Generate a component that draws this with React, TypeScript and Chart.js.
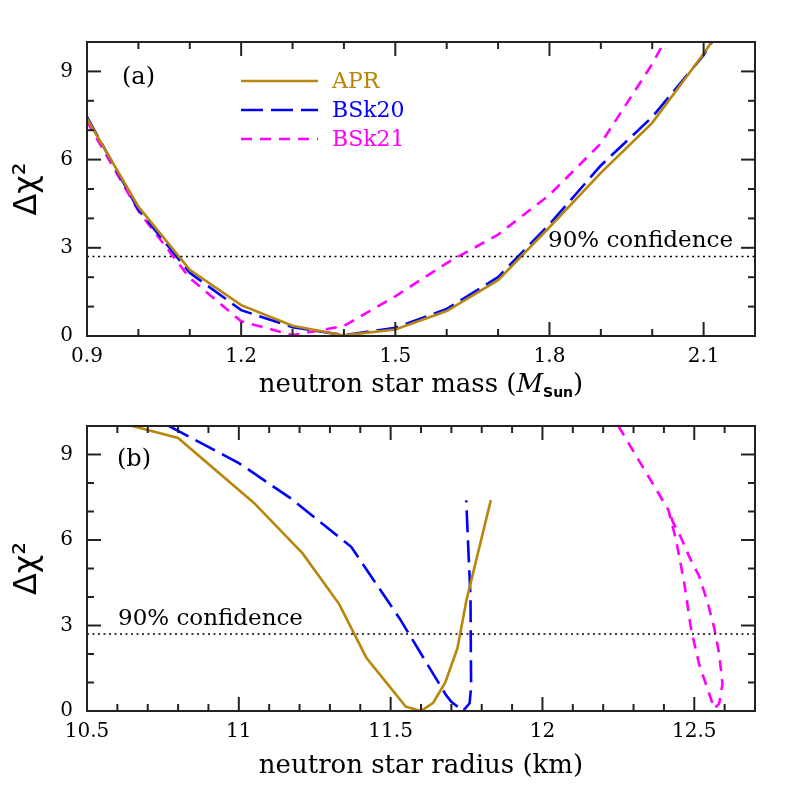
import React, { useEffect, useRef } from "react";
import { Chart, registerables } from "chart.js";

Chart.register(...registerables);

// ---------- Panel (a): mass ----------
const massGrid = [0.9, 1.0, 1.1, 1.2, 1.3, 1.4, 1.5, 1.6, 1.7, 1.8, 1.9, 2.0, 2.1, 2.2];
const aprMassChi = [7.4, 4.4, 2.25, 1.05, 0.35, 0.02, 0.22, 0.85, 1.9, 3.7, 5.55, 7.25, 9.6, 12.2];
const bsk20MassChi = [7.45, 4.3, 2.15, 0.88, 0.3, 0.03, 0.28, 0.92, 2.0, 3.8, 5.8, 7.45, 9.55, 12.3];
const bsk21MassChi = [7.3, 4.25, 1.97, 0.5, 0.03, 0.34, 1.35, 2.48, 3.45, 4.8, 6.55, 9.25, 12.5, 16.0];

// ---------- Panel (b): radius ----------
const aprRadius = [10.65, 10.8, 11.05, 11.21, 11.33, 11.42, 11.5, 11.55, 11.6, 11.64, 11.68, 11.72, 11.75, 11.83];
const aprRadiusChi = [10.0, 9.58, 7.3, 5.53, 3.76, 1.87, 0.81, 0.15, 0.0, 0.29, 1.0, 2.2, 3.9, 7.4];

const bsk20Radius = [10.77, 11.0, 11.17, 11.37, 11.53, 11.683, 11.7, 11.738, 11.76, 11.765, 11.763, 11.756, 11.749];
const bsk20RadiusChi = [10.0, 8.7, 7.47, 5.76, 3.24, 0.55, 0.32, 0.0, 0.27, 0.84, 4.0, 5.64, 7.39];

const bsk21Radius = [12.25, 12.415, 12.44, 12.467, 12.489, 12.516, 12.566, 12.582, 12.593, 12.582, 12.566, 12.544, 12.516, 12.484, 12.456, 12.428, 12.422];
const bsk21RadiusChi = [10.0, 7.05, 6.0, 4.5, 2.9, 1.64, 0.08, 0.26, 0.95, 2.0, 2.9, 3.81, 4.73, 5.4, 6.09, 6.67, 6.9];

const confidenceLevel = 2.706;
const confidenceText = "90% confidence";

// ---------- axes ----------
const massRange = [0.9, 2.2];
const radiusRange = [10.5, 12.7];
const chiRange = [0, 10];
const massTicks = [0.9, 1.2, 1.5, 1.8, 2.1];
const massMinorTicks = [1.0, 1.1, 1.3, 1.4, 1.6, 1.7, 1.9, 2.0, 2.2];
const radiusTicks = [10.5, 11, 11.5, 12, 12.5];
const radiusMinorTicks = [10.6, 10.7, 10.8, 10.9, 11.1, 11.2, 11.3, 11.4, 11.6, 11.7, 11.8, 11.9, 12.1, 12.2, 12.3, 12.4, 12.6, 12.7];
const chiTicks = [0, 3, 6, 9];
const chiMinorTicks = [1, 2, 4, 5, 7, 8, 10];

const seriesNames = ["APR", "BSk20", "BSk21"];
const seriesColors = ["#B8860B", "#0000FF", "#FF00FF"];
const seriesDash: number[][] = [[], [22, 8], [11, 8]];

const SERIF = "'DejaVu Serif', serif";

const decorPlugin = {
  id: "decor",
  afterDatasetsDraw(chart: any, _args: any, opts: any) {
    const { ctx, chartArea: ca, scales } = chart;
    const xs = scales.x;
    const ys = scales.y;
    ctx.save();
    ctx.strokeStyle = "#222";
    ctx.lineWidth = 2;
    ctx.setLineDash([]);
    const seg = (x1: number, y1: number, x2: number, y2: number) => {
      ctx.beginPath();
      ctx.moveTo(x1, y1);
      ctx.lineTo(x2, y2);
      ctx.stroke();
    };
    const xt = (vals: number[], len: number) =>
      vals.forEach((v) => {
        const p = xs.getPixelForValue(v);
        seg(p, ca.bottom, p, ca.bottom - len);
        seg(p, ca.top, p, ca.top + len);
      });
    const yt = (vals: number[], len: number) =>
      vals.forEach((v) => {
        const p = ys.getPixelForValue(v);
        seg(ca.left, p, ca.left + len, p);
        seg(ca.right, p, ca.right - len, p);
      });
    xt(opts.xMajor, 14);
    xt(opts.xMinor, 7);
    yt(opts.yMajor, 14);
    yt(opts.yMinor, 7);
    ctx.strokeRect(ca.left, ca.top, ca.right - ca.left, ca.bottom - ca.top);

    ctx.fillStyle = "#000";
    ctx.font = `24px ${SERIF}`;
    ctx.textBaseline = "middle";
    ctx.textAlign = "left";
    ctx.fillText(opts.panelLabel, ca.left + opts.panelDx, ca.top + opts.panelDy);

    ctx.font = `23px ${SERIF}`;
    const cy = ys.getPixelForValue(confidenceLevel) - 15;
    if (opts.confAlign === "right") {
      ctx.textAlign = "right";
      ctx.fillText(confidenceText, ca.right - opts.confDx, cy);
    } else {
      ctx.textAlign = "left";
      ctx.fillText(confidenceText, ca.left + opts.confDx, cy);
    }

    if (opts.legend) {
      seriesNames.forEach((name, i) => {
        const yy = ca.top + 39 + i * 29;
        ctx.strokeStyle = seriesColors[i];
        ctx.lineWidth = 2.5;
        ctx.setLineDash(seriesDash[i]);
        seg(ca.left + 154, yy, ca.left + 231, yy);
        ctx.setLineDash([]);
        ctx.fillStyle = seriesColors[i];
        ctx.textAlign = "left";
        ctx.font = `22px ${SERIF}`;
        ctx.fillText(name, ca.left + 245, yy + 1);
      });
    }

    const parts: { t: string; f: string; dy: number }[] = opts.titleParts;
    let total = 0;
    parts.forEach((p) => {
      ctx.font = p.f;
      total += ctx.measureText(p.t).width;
    });
    let x0 = (ca.left + ca.right) / 2 - total / 2;
    const ty = ca.bottom + opts.titleDy;
    ctx.fillStyle = "#000";
    ctx.textAlign = "left";
    ctx.textBaseline = "alphabetic";
    parts.forEach((p) => {
      ctx.font = p.f;
      ctx.fillText(p.t, x0, ty + p.dy);
      x0 += ctx.measureText(p.t).width;
    });
    ctx.restore();
  },
};

function makeConfig(panel: "a" | "b", H: number, top: number, bottom: number) {
  const mk = (xs: number[], ys: number[]) => xs.map((x, i) => ({ x, y: ys[i] }));
  const xr = panel === "a" ? massRange : radiusRange;
  const seriesData =
    panel === "a"
      ? [mk(massGrid, aprMassChi), mk(massGrid, bsk20MassChi), mk(massGrid, bsk21MassChi)]
      : [mk(aprRadius, aprRadiusChi), mk(bsk20Radius, bsk20RadiusChi), mk(bsk21Radius, bsk21RadiusChi)];
  const datasets: any[] = [
    {
      label: confidenceText,
      data: [
        { x: xr[0], y: confidenceLevel },
        { x: xr[1], y: confidenceLevel },
      ],
      showLine: true,
      borderColor: "#000",
      borderWidth: 1.5,
      borderDash: [2, 3.5],
      pointRadius: 0,
    },
  ];
  seriesNames.forEach((name, i) =>
    datasets.push({
      label: name,
      data: seriesData[i],
      showLine: true,
      borderColor: seriesColors[i],
      borderWidth: 2.6,
      borderDash: seriesDash[i],
      pointRadius: 0,
      tension: 0,
    })
  );
  const titleParts =
    panel === "a"
      ? [
          { t: "neutron star mass (", f: `26px ${SERIF}`, dy: 0 },
          { t: "M", f: `italic 26px ${SERIF}`, dy: 0 },
          { t: "Sun", f: `bold 14px 'DejaVu Sans', sans-serif`, dy: 5 },
          { t: ")", f: `26px ${SERIF}`, dy: 0 },
        ]
      : [{ t: "neutron star radius (km)", f: `26px ${SERIF}`, dy: 0 }];
  const tickFont = { family: "'DejaVu Serif', serif", size: 20 };
  return {
    type: "scatter",
    data: { datasets },
    options: {
      responsive: false,
      animation: false,
      events: [],
      layout: { padding: { left: 0, top, right: 42, bottom: 0 } },
      plugins: {
        legend: { display: false },
        tooltip: { enabled: false },
        decor: {
          xMajor: panel === "a" ? massTicks : radiusTicks,
          xMinor: panel === "a" ? massMinorTicks : radiusMinorTicks,
          yMajor: chiTicks,
          yMinor: chiMinorTicks,
          panelLabel: panel === "a" ? "(a)" : "(b)",
          panelDx: panel === "a" ? 35 : 30,
          panelDy: panel === "a" ? 36 : 34,
          confAlign: panel === "a" ? "right" : "left",
          confDx: panel === "a" ? 22 : 31,
          legend: panel === "a",
          titleParts,
          titleDy: panel === "a" ? 56 : 62,
        },
      },
      scales: {
        x: {
          type: "linear",
          min: xr[0],
          max: xr[1],
          afterBuildTicks: (s: any) => {
            s.ticks = (panel === "a" ? massTicks : radiusTicks).map((v) => ({ value: v }));
          },
          afterFit: (s: any) => {
            s.height = H - bottom;
          },
          grid: { display: false, drawTicks: false },
          border: { display: false },
          ticks: {
            font: tickFont,
            color: "#000",
            padding: 9,
            maxRotation: 0,
            autoSkip: false,
            callback: (v: any) => String(v),
          },
        },
        y: {
          type: "linear",
          min: chiRange[0],
          max: chiRange[1],
          afterBuildTicks: (s: any) => {
            s.ticks = chiTicks.map((v) => ({ value: v }));
          },
          afterFit: (s: any) => {
            s.width = 87;
          },
          grid: { display: false, drawTicks: false },
          border: { display: false },
          ticks: {
            font: tickFont,
            color: "#000",
            padding: 14,
            autoSkip: false,
            callback: (v: any) => String(v),
          },
          title: {
            display: true,
            text: "Δχ²",
            color: "#000",
            font: { family: "'DejaVu Sans', sans-serif", size: 32 },
            padding: { top: 8, bottom: 0 },
          },
        },
      },
    },
    plugins: [decorPlugin],
  };
}

function Panel({ panel, top, H, areaTop, areaBottom }: any) {
  const ref = useRef<HTMLCanvasElement>(null);
  useEffect(() => {
    const chart = new Chart(ref.current as HTMLCanvasElement, makeConfig(panel, H, areaTop, areaBottom) as any);
    return () => chart.destroy();
  }, []);
  return (
    <canvas
      ref={ref}
      width={797}
      height={H}
      style={{ position: "absolute", left: 0, top, width: 797, height: H }}
    />
  );
}

export default function App() {
  useEffect(() => {
    document.body.style.margin = "0";
  }, []);
  return (
    <div style={{ position: "absolute", left: 0, top: 0, width: 797, height: 797, background: "#fff" }}>
      <Panel panel="a" top={0} H={400} areaTop={42} areaBottom={336} />
      <Panel panel="b" top={400} H={397} areaTop={20} areaBottom={311} />
    </div>
  );
}
